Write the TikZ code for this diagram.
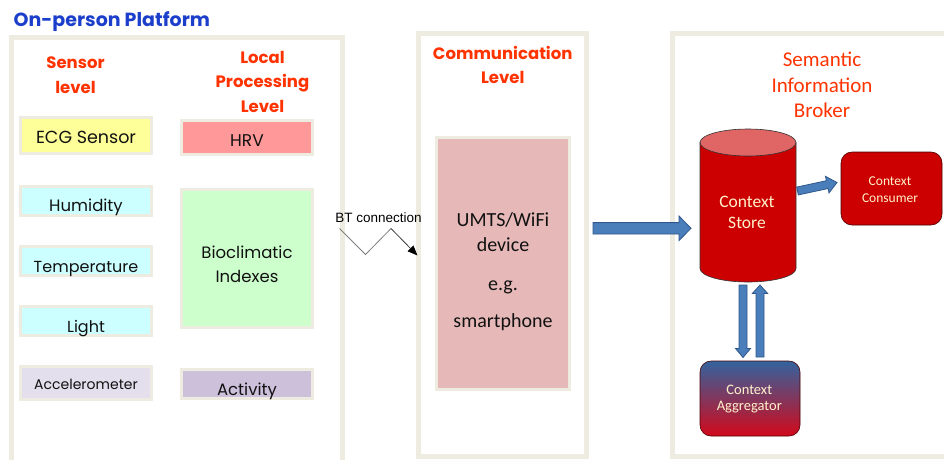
\documentclass[tikz,border=0pt]{standalone}
\usepackage{fontspec}
\setmainfont{Poppins}
\newfontfamily\calf{Carlito}
\newfontfamily\arialf{Liberation Sans}
\usetikzlibrary{arrows.meta,calc}
\definecolor{beige}{HTML}{EEECE1}
\definecolor{ttlblue}{HTML}{1C3FCB}
\definecolor{hdr}{HTML}{FF3300}
\definecolor{ecg}{HTML}{FFFF99}
\definecolor{cyanbox}{HTML}{CCFFFF}
\definecolor{accel}{HTML}{E4DFEC}
\definecolor{hrv}{HTML}{FF9999}
\definecolor{bio}{HTML}{CCFFCC}
\definecolor{act}{HTML}{CCC0DA}
\definecolor{pinkbox}{HTML}{E6B9B8}
\definecolor{cred}{HTML}{CC0000}
\definecolor{ctop}{HTML}{E06666}
\definecolor{ctext}{HTML}{FFF2CC}
\definecolor{afill}{HTML}{4A7EBB}
\definecolor{adraw}{HTML}{30578C}
\definecolor{aggtop}{HTML}{33639E}
\definecolor{aggbot}{HTML}{D2091A}
\definecolor{txt}{HTML}{111111}
\newcommand\blockarrow[5]{%
  \path[barrow] let \p1=(#1), \p2=(#2),
    \n1={atan2(\y2-\y1,\x2-\x1)}, \n2={veclen(\x2-\x1,\y2-\y1)} in
    [shift={(\p1)}, rotate=\n1]
    (0,#3) -- ({\n2-#5},#3) -- ({\n2-#5},#4) -- (\n2,0) -- ({\n2-#5},-#4)
    -- ({\n2-#5},-#3) -- (0,-#3) -- cycle;}
\begin{document}
\begin{tikzpicture}[x=1pt,y=-1pt,
  panel/.style={draw=beige, line width=5pt, fill=white, inner sep=0pt},
  box/.style={draw=beige, line width=3pt, inner sep=0pt, minimum width=131pt},
  lbl/.style={anchor=base, text=txt, font=\fontsize{16}{16}\selectfont, inner sep=0pt},
  hd/.style={anchor=base, text=hdr, font=\fontsize{16.5}{16.5}\selectfont\bfseries, inner sep=0pt},
  cl/.style={anchor=base, text=txt, font=\calf\fontsize{20}{20}\selectfont, inner sep=0pt},
  sh/.style={anchor=base, text=hdr, font=\calf\fontsize{21}{21}\selectfont, inner sep=0pt},
  ct/.style={anchor=base, text=ctext, inner sep=0pt},
  barrow/.style={fill=afill, draw=adraw, line width=0.8pt, line join=miter},
  rbox/.style={rounded corners=11pt, draw=black!70!red, line width=0.6pt, inner sep=0pt}]
\clip (0,0) rectangle (944,459);
\fill[white] (0,0) rectangle (944,459);

% panels
\node[panel, minimum width=331pt, minimum height=450pt] (onperson) at (177,262.5) {};
\node[panel, minimum width=168pt, minimum height=423pt] (comm) at (502.5,245) {};
\node[panel, minimum width=288pt, minimum height=423pt] (sib) at (816,245) {};

% title
\node[anchor=base west, inner sep=0pt, text=ttlblue, font=\fontsize{19}{19}\selectfont\bfseries] (title) at (13.5,26) {On-person Platform};

% headers left panel
\node[hd] (sl1) at (75.5,68) {Sensor};
\node[hd] (sl2) at (75.5,93) {level};
\node[hd] (lp1) at (262.5,63) {Local};
\node[hd] (lp2) at (262.5,87.5) {Processing};
\node[hd] (lp3) at (262.5,112) {Level};

% sensor boxes
\node[box, fill=ecg, minimum height=36pt] (ecg) at (86,135.5) {};
\node[lbl, font=\fontsize{17.5}{17.5}\selectfont] (ecgL) at (86,143.3) {ECG Sensor};
\node[box, fill=cyanbox, minimum height=29pt] (hum) at (86,201) {};
\node[lbl, font=\fontsize{16.5}{16.5}\selectfont] (humL) at (86,211.7) {Humidity};
\node[box, fill=cyanbox, minimum height=29pt] (temp) at (86,261) {};
\node[lbl] (tempL) at (86,272.7) {Temperature};
\node[box, fill=cyanbox, minimum height=29pt] (light) at (86,321) {};
\node[lbl] (lightL) at (86,332) {Light};
\node[box, fill=accel, minimum height=33pt] (acc) at (86,383) {};
\node[lbl, font=\fontsize{14}{14}\selectfont] (accL) at (86,389) {Accelerometer};

% processing boxes
\node[box, fill=hrv, minimum height=34pt] (hrv) at (247,137.5) {};
\node[lbl, font=\fontsize{17}{17}\selectfont] (hrvL) at (247,146) {HRV};
\node[box, fill=bio, minimum height=138pt] (bio) at (247,258.5) {};
\node[lbl, font=\fontsize{16.5}{16.5}\selectfont] (bioL1) at (247,258) {Bioclimatic};
\node[lbl, font=\fontsize{16.5}{16.5}\selectfont] (bioL2) at (247,282.7) {Indexes};
\node[box, fill=act, minimum height=29pt] (act) at (247,384) {};
\node[lbl, font=\fontsize{16.5}{16.5}\selectfont] (actL) at (247,395) {Activity};

% communication
\node[hd] (cm1) at (502.7,59) {Communication};
\node[hd] (cm2) at (502.7,83) {Level};
\node[box, fill=pinkbox, minimum width=133pt, minimum height=252pt] (dev) at (503,263.5) {};
\node[cl] (dv1) at (503,226.7) {UMTS/WiFi};
\node[cl] (dv2) at (503,251.7) {device};
\node[cl] (dv3) at (503,290) {e.g.};
\node[cl] (dv4) at (503,327.7) {smartphone};

% BT connection
\node[anchor=base, inner sep=0pt, font=\arialf\fontsize{13.5}{13.5}\selectfont, text=black] (bt) at (378.5,222.7) {BT connection};
\coordinate (bt0) at (339.5,228.5);
\coordinate (bt1) at (365.5,254.5);
\coordinate (bt2) at (391,228.5);
\coordinate (bt3) at (417.5,255.5);
\draw[gray, line width=0.8pt] (bt0) -- (bt1) -- (bt2);
\draw[black!75, line width=0.8pt, -{Triangle[length=10pt,width=8pt,color=black]}] (bt2) -- (bt3);

% semantic information broker
\node[sh] (sb1) at (822,66.7) {Semantic};
\node[sh] (sb2) at (822,92.3) {Information};
\node[sh] (sb3) at (822,117.3) {Broker};

% cylinder (context store)
\node[inner sep=0pt, minimum width=96pt, minimum height=153pt] (store) at (748,205.5) {};
\filldraw[fill=cred, draw=black!80, line width=0.6pt] (700,142.5) -- (700,268.5)
  arc[start angle=180, end angle=0, x radius=48, y radius=13.5] -- (796,142.5) -- cycle;
\filldraw[fill=ctop, draw=black!80, line width=0.6pt] (748,142.5) ellipse[x radius=48, y radius=13.5];
\node[ct, font=\calf\fontsize{17.5}{17.5}\selectfont] (st1) at (747,207.3) {Context};
\node[ct, font=\calf\fontsize{17.5}{17.5}\selectfont] (st2) at (747,228.3) {Store};

% context consumer
\node[rbox, fill=cred, minimum width=101pt, minimum height=73pt] (cons) at (891.5,188.5) {};
\node[ct, font=\calf\fontsize{13.5}{13.5}\selectfont] (cs1) at (890,185.3) {Context};
\node[ct, font=\calf\fontsize{13.5}{13.5}\selectfont] (cs2) at (890,202.3) {Consumer};

% context aggregator
\node[rbox, top color=aggtop, bottom color=aggbot, minimum width=100pt, minimum height=75pt] (agg) at (750,398.5) {};
\node[ct, font=\calf\fontsize{14.5}{14.5}\selectfont] (ag1) at (749.3,394) {Context};
\node[ct, font=\calf\fontsize{14.5}{14.5}\selectfont] (ag2) at (749.3,410) {Aggregator};

% block arrows
\coordinate (bigA) at (593,228.3);
\coordinate (bigB) at (691,228.3);
\blockarrow{bigA}{bigB}{5.7}{12.3}{12}
\coordinate (scA) at (797.5,191);
\coordinate (scB) at (837,182.5);
\blockarrow{scA}{scB}{4}{8.5}{10}
\coordinate (dnA) at (743,285);
\coordinate (dnB) at (743,357.5);
\blockarrow{dnA}{dnB}{4}{7.5}{9}
\coordinate (upA) at (760,357);
\coordinate (upB) at (760,285);
\blockarrow{upA}{upB}{4}{7.7}{8.5}
\end{tikzpicture}
\end{document}
